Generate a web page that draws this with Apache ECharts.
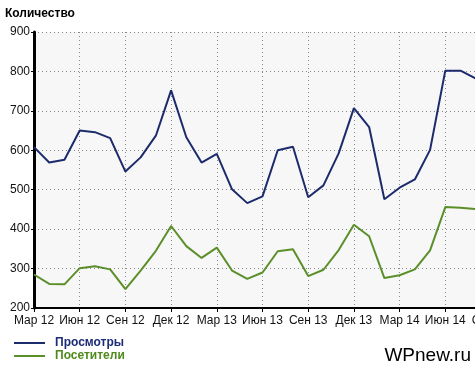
<!DOCTYPE html>
<html>
<head>
<meta charset="utf-8">
<script src="https://cdn.jsdelivr.net/npm/echarts@6/dist/echarts.min.js"></script>
<style>html,body{margin:0;padding:0;background:#fff}#c{width:475px;height:368px}</style>
</head>
<body>
<div id="c"></div>
<script>
const months = ['Мар 12','Апр 12','Май 12','Июн 12','Июл 12','Авг 12','Сен 12','Окт 12','Ноя 12','Дек 12','Янв 13','Фев 13',
  'Мар 13','Апр 13','Май 13','Июн 13','Июл 13','Авг 13','Сен 13','Окт 13','Ноя 13','Дек 13','Янв 14','Фев 14',
  'Мар 14','Апр 14','Май 14','Июн 14','Июл 14','Авг 14','Сен 14'];
const views = [608,569,576,650,646,631,546,582,637,752,633,569,591,501,466,483,600,609,481,511,592,707,659,476,505,526,601,802,802,782,null];
const visitors = [285,261,260,301,306,298,248,295,345,408,357,327,353,295,274,290,344,349,281,297,347,411,382,276,283,298,346,456,454,451,null];
const yTicks = {min:200, max:900, step:100};
const FONT = '"Liberation Sans", Arial, sans-serif';
const BLUE = '#1c2b6b', GREEN = '#5a8f2a';

const legendBase = {
  left:14, itemWidth:31, itemHeight:2, icon:'rect', padding:0,
  textStyle:{fontFamily:FONT, fontSize:12, fontWeight:'bold', padding:[0,0,0,5]}
};

const chart = echarts.init(document.getElementById('c'), null, {renderer:'canvas'});
chart.setOption({
  animation:false,
  backgroundColor:'#ffffff',
  title:{text:'Количество', left:5, top:8, padding:0, textStyle:{fontFamily:FONT, fontSize:12, fontWeight:'bold', color:'#000'}},
  grid:{left:34, top:32, bottom:60, right:-16, show:true, backgroundColor:'#f7f7f7', borderWidth:0, outerBoundsMode:'none', containLabel:false},
  legend:[
    Object.assign({}, legendBase, {top:337, data:[{name:'Просмотры', textStyle:{color:'#1c2b78'}}]}),
    Object.assign({}, legendBase, {top:350, data:[{name:'Посетители', textStyle:{color:'#4f8a1e'}}]})
  ],
  graphic:[{type:'text', right:4, top:346, style:{text:'WPnew.ru', fontFamily:FONT, fontSize:19, fill:'#000'}}],
  xAxis:{
    type:'category', data:months, boundaryGap:false,
    axisLine:{lineStyle:{color:'#000', width:2}},
    axisTick:{show:true, interval:2, length:4, lineStyle:{color:'#000', width:1}},
    axisLabel:{interval:2, margin:7, fontFamily:FONT, fontSize:12, color:'#111'},
    splitLine:{show:true, interval:2, lineStyle:{color:'#888', type:[1,3], width:1}}
  },
  yAxis:{
    type:'value', min:yTicks.min, max:yTicks.max, interval:yTicks.step,
    axisLine:{show:true, lineStyle:{color:'#000', width:3}},
    axisTick:{show:true, length:3, lineStyle:{color:'#000', width:1}},
    axisLabel:{margin:4, fontFamily:FONT, fontSize:12, color:'#111'},
    splitLine:{show:true, lineStyle:{color:'#888', type:[1,3], width:1}}
  },
  series:[
    {name:'Просмотры', type:'line', data:views, symbol:'none', lineStyle:{width:2, color:BLUE}, itemStyle:{color:BLUE}},
    {name:'Посетители', type:'line', data:visitors, symbol:'none', lineStyle:{width:2, color:GREEN}, itemStyle:{color:GREEN}}
  ]
});
</script>
</body>
</html>
